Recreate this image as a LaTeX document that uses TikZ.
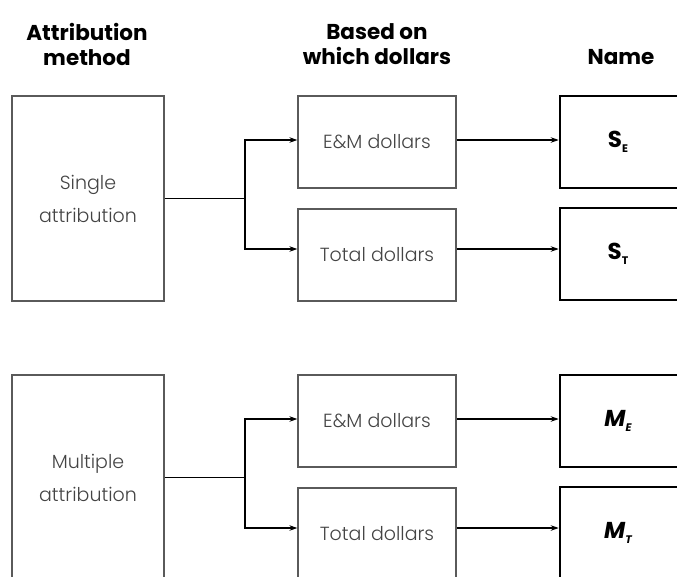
\documentclass[tikz,border=0pt]{standalone}
\usepackage{fontspec}
\setmainfont{Poppins}
\newfontfamily\lightf{Poppins Light}
\newfontfamily\boldf{Poppins Bold}
\usetikzlibrary{arrows.meta}
\definecolor{boxgray}{HTML}{5A5A5A}
\definecolor{txtgray}{HTML}{444444}
\tikzset{
  hdr/.style={font=\boldf\fontsize{21.5}{25}\selectfont, align=center, text=black},
  graybox/.style={draw=boxgray, line width=1.3pt, font=\lightf\fontsize{19}{33}\selectfont, text=txtgray, align=center, inner sep=0pt},
  namebox/.style={draw=black, line width=2.6pt, minimum width=130pt, minimum height=92pt, inner sep=0pt},
  conn/.style={draw=black, line width=1.2pt},
  arr/.style={conn, -{Stealth[length=8pt,width=5.5pt]}},
  nm/.style={font=\boldf\fontsize{23}{26}\selectfont},
}
\newcommand{\nmsub}[2]{#1\raisebox{-5pt}{\fontsize{11}{11}\selectfont #2}}
\begin{document}
\begin{tikzpicture}[x=1pt,y=-1pt]
\useasboundingbox (0,0) rectangle (677,576);
\clip (0,0) rectangle (677,576);
% headers
\node[hdr] (h1) at (87,44) {Attribution\\method};
\node[hdr] (h2) at (377,44) {Based on\\which dollars};
\node[hdr, anchor=base] (h3) at (621,64) {Name};
% group 1
\node[graybox, minimum width=152pt, minimum height=205pt] (L1) at (88,198.5) {Single\\attribution};
\node[graybox, minimum width=158pt, minimum height=92pt] (M1) at (377,142) {E\&M dollars};
\node[graybox, minimum width=158pt, minimum height=92pt] (M2) at (377,255) {Total dollars};
\node[namebox, label={[nm, xshift=-7pt]center:\nmsub{S}{E}}] (R1) at (625,142) {};
\node[namebox, label={[nm, xshift=-7pt]center:\nmsub{S}{T}}] (R2) at (625,254) {};
\coordinate (b1) at (245,198.5);
\draw[conn] (L1.east) -- (b1);
\draw[arr] (b1) |- ([yshift=2pt]M1.west);
\draw[arr] (b1) |- ([yshift=6pt]M2.west);
\draw[arr] ([yshift=2pt]M1.east) -- ([yshift=2pt]M1.east -| R1.west);
\draw[arr] ([yshift=6pt]M2.east) -- ([yshift=6pt]M2.east -| R2.west);
% group 2
\node[graybox, minimum width=152pt, minimum height=205pt] (L2) at (88,477.5) {Multiple\\attribution};
\node[graybox, minimum width=158pt, minimum height=92pt] (M3) at (377,421) {E\&M dollars};
\node[graybox, minimum width=158pt, minimum height=92pt] (M4) at (377,534) {Total dollars};
\node[namebox, label={[nm, xshift=-7pt]center:\itshape\nmsub{M}{E}}] (R3) at (625,421) {};
\node[namebox, label={[nm, xshift=-7pt]center:\itshape\nmsub{M}{T}}] (R4) at (625,533) {};
\coordinate (b2) at (245,477.5);
\draw[conn] (L2.east) -- (b2);
\draw[arr] (b2) |- ([yshift=2pt]M3.west);
\draw[arr] (b2) |- ([yshift=6pt]M4.west);
\draw[arr] ([yshift=2pt]M3.east) -- ([yshift=2pt]M3.east -| R3.west);
\draw[arr] ([yshift=6pt]M4.east) -- ([yshift=6pt]M4.east -| R4.west);
\end{tikzpicture}
\end{document}
